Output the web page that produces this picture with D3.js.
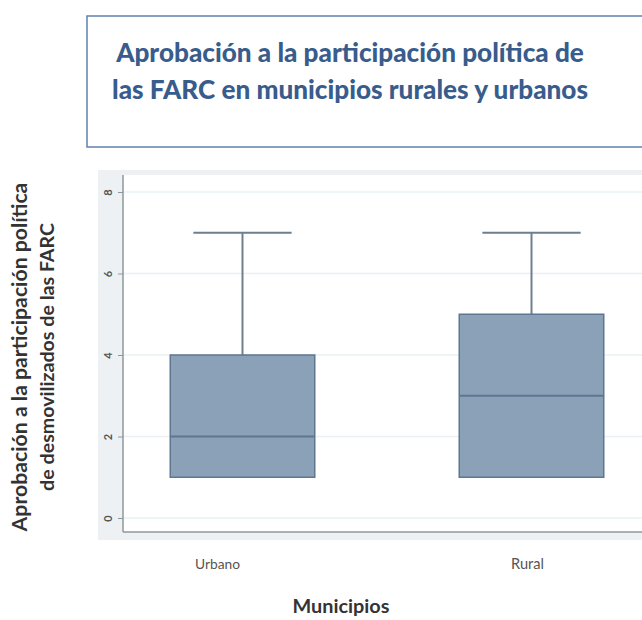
<!DOCTYPE html>
<html><head><meta charset="utf-8">
<script src="https://cdn.jsdelivr.net/npm/d3@7"></script>
<style>html,body{margin:0;padding:0;background:#fff;overflow:hidden}</style>
</head><body>
<svg id="c" width="642" height="620"></svg>
<script>
const categories = ["Urbano", "Rural"];
const minVals = [1, 1];
const q1Vals = [1, 1];
const medianVals = [2, 3];
const q3Vals = [4, 5];
const maxVals = [7, 7];
const yTicks = [0, 2, 4, 6, 8];
const titleLines = ["Aprobación a la participación política de", "las FARC en municipios rurales y urbanos"];
const yTitleLines = ["Aprobación a la participación política", "de desmovilizados de las FARC"];
const xTitle = "Municipios";

const svg = d3.select("#c");
const font = "Lato, 'Open Sans', sans-serif";

function fit(sel, w) {
  const l = sel.node().getComputedTextLength();
  const fs = parseFloat(sel.attr("font-size"));
  sel.attr("font-size", fs * w / l);
}

// Title box
svg.append("rect").attr("x", 87).attr("y", 16).attr("width", 600).attr("height", 131)
  .attr("fill", "#fff").attr("stroke", "#5f80b0").attr("stroke-width", 1.5);
const tW = [468, 476];
const tY = [62, 99];
titleLines.forEach((t, i) => {
  const s = svg.append("text").attr("x", 350).attr("y", tY[i]).attr("text-anchor", "middle")
    .attr("font-family", font).attr("font-weight", "900").attr("font-size", 24)
    .attr("fill", "#385c8c").text(t);
  fit(s, tW[i]);
});

// Plot backgrounds
svg.append("rect").attr("x", 98).attr("y", 170).attr("width", 560).attr("height", 370).attr("fill", "#edf1f3");
svg.append("rect").attr("x", 123).attr("y", 175).attr("width", 540).attr("height", 357).attr("fill", "#fff");

const x = d3.scaleBand().domain(categories).range([98, 676]).paddingInner(0.5).paddingOuter(0.25);
const y = d3.scaleLinear().domain([0, 8]).range([518, 192]);

// gridlines
svg.append("g").selectAll("line").data(yTicks).join("line")
  .attr("x1", 123).attr("x2", 642).attr("y1", d => y(d)).attr("y2", d => y(d))
  .attr("stroke", "#eaf0f3").attr("stroke-width", 1.5);

// y axis
const ya = svg.append("g").attr("transform", "translate(123,0)")
  .call(d3.axisLeft(y).tickValues(yTicks).tickSize(5).tickPadding(4));
ya.select(".domain").remove();
ya.selectAll(".tick line").attr("stroke", "#8e979c");
ya.selectAll(".tick text").attr("transform", "rotate(-90)").attr("x", 0).attr("y", -15)
  .attr("dy", "0.35em").attr("text-anchor", "middle")
  .attr("font-family", font).attr("font-size", 11).attr("font-weight", "bold").attr("fill", "#555");

// axis lines
svg.append("line").attr("x1", 123).attr("x2", 123).attr("y1", 175).attr("y2", 532).attr("stroke", "#8e979c").attr("stroke-width", 1.5);
svg.append("line").attr("x1", 123).attr("x2", 642).attr("y1", 532).attr("y2", 532).attr("stroke", "#8e979c").attr("stroke-width", 1.5);

// boxes
const data = categories.map((c, i) => ({c, min: minVals[i], q1: q1Vals[i], med: medianVals[i], q3: q3Vals[i], max: maxVals[i]}));
const bw = x.bandwidth();
const g = svg.append("g").selectAll("g").data(data).join("g")
  .attr("transform", d => `translate(${x(d.c)},0)`);
g.append("line").attr("x1", bw / 2).attr("x2", bw / 2).attr("y1", d => y(d.q3)).attr("y2", d => y(d.max))
  .attr("stroke", "#6e7f8e").attr("stroke-width", 2);
g.append("line").attr("x1", bw / 2).attr("x2", bw / 2).attr("y1", d => y(d.q1)).attr("y2", d => y(d.min))
  .attr("stroke", "#6e7f8e").attr("stroke-width", 2);
g.append("line").attr("x1", bw / 2 - bw * 0.34).attr("x2", bw / 2 + bw * 0.34).attr("y1", d => y(d.max)).attr("y2", d => y(d.max))
  .attr("stroke", "#6e7f8e").attr("stroke-width", 2);
g.append("rect").attr("x", 0).attr("width", bw).attr("y", d => y(d.q3)).attr("height", d => y(d.q1) - y(d.q3))
  .attr("fill", "#8aa1b7").attr("stroke", "#5f7690").attr("stroke-width", 1.5);
g.append("line").attr("x1", 0).attr("x2", bw).attr("y1", d => y(d.med)).attr("y2", d => y(d.med))
  .attr("stroke", "#5f7690").attr("stroke-width", 2);

// x labels
const labelShift = {Urbano: -25, Rural: -4};
const labelW = {Urbano: 45, Rural: 33};
svg.append("g").selectAll("text").data(categories).join("text")
  .attr("x", d => x(d) + bw / 2 + labelShift[d]).attr("y", 569).attr("text-anchor", "middle")
  .attr("font-family", font).attr("font-size", 11).attr("fill", "#555").text(d => d)
  .each(function (d) { fit(d3.select(this), labelW[d]); });

// x title
const xt = svg.append("text").attr("x", 341).attr("y", 613).attr("text-anchor", "middle")
  .attr("font-family", font).attr("font-weight", "bold").attr("font-size", 14).attr("fill", "#333").text(xTitle);
fit(xt, 97);

// y title
const yx = [27, 54];
const yW = [349, 268];
yTitleLines.forEach((t, i) => {
  const s = svg.append("text").attr("transform", `translate(${yx[i]},357) rotate(-90)`)
    .attr("text-anchor", "middle").attr("font-family", font).attr("font-weight", "bold")
    .attr("font-size", 14).attr("fill", "#333").text(t);
  fit(s, yW[i]);
});
</script>
</body></html>
